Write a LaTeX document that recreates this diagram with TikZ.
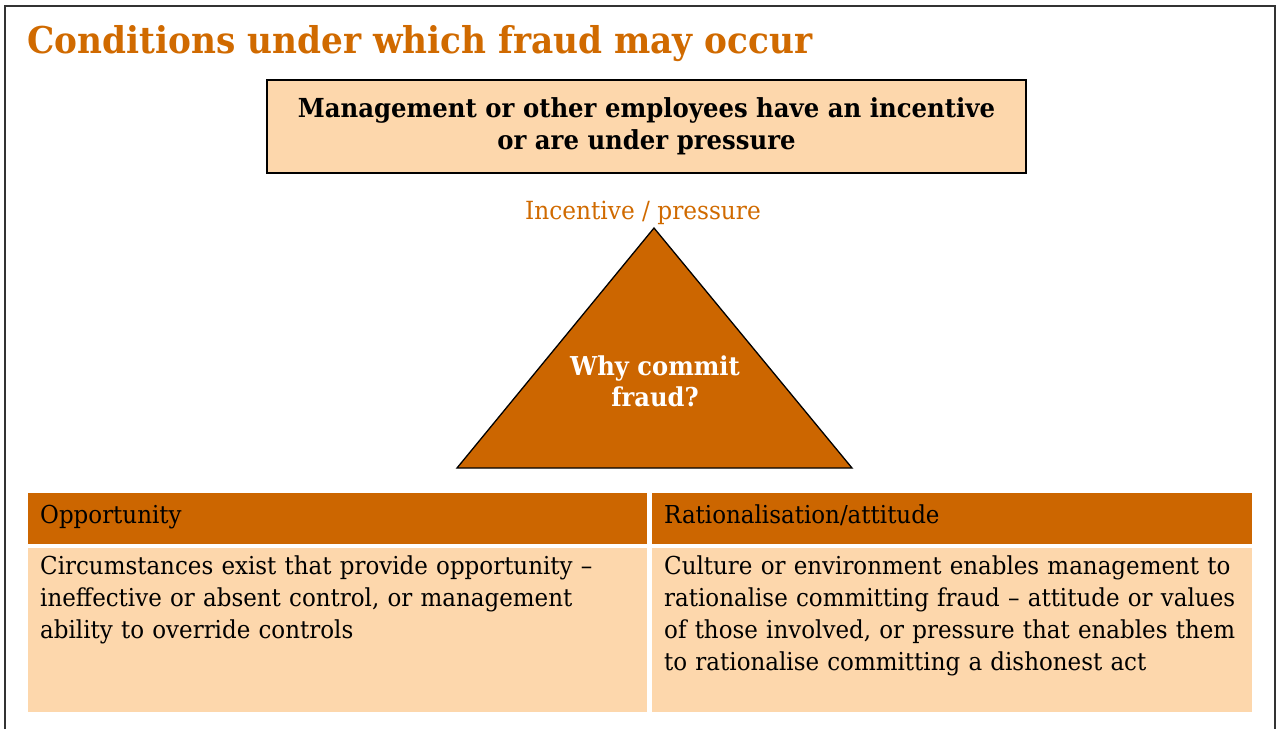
\documentclass[tikz,border=0pt]{standalone}
\usepackage{fontspec}
\setmainfont{DejaVu Serif}[FakeStretch=0.93]
\usetikzlibrary{positioning}

\definecolor{fraudorange}{RGB}{204,102,0}
\definecolor{titleorange}{RGB}{208,106,0}
\definecolor{peach}{RGB}{253,215,172}

\tikzset{
	headcell/.style={fill=fraudorange, minimum height=51pt, inner sep=0pt},
	bodycell/.style={fill=peach, minimum height=164pt, inner sep=0pt},
	celltext/.style={anchor=north west, inner sep=0pt, align=left, font=\fontsize{24.7}{31.8}\selectfont},
}

\begin{document}
\begin{tikzpicture}[x=1pt, y=-1pt]
	\useasboundingbox (0,0) rectangle (1279,729);
	% frame
	\draw [line width=2pt, black!80] (5,729) -- (5,6) -- (1275,6) -- (1275,729);

	% title
	\node [anchor=base west, inner sep=0pt, text=titleorange, font=\fontsize{36.9}{42}\selectfont\bfseries] (title) at (27,53) {Conditions under which fraud may occur};

	% incentive box
	\node [draw, line width=1.6pt, fill=peach, minimum width=759pt, minimum height=93pt, inner sep=0pt,
		align=center, font=\fontsize{26.2}{32}\selectfont\bfseries] (incbox) at (646.5,126.5)
		{Management or other employees have an incentive\\or are under pressure};

	% triangle
	\coordinate (apex) at (654,228);
	\coordinate (bl) at (457,468);
	\coordinate (br) at (852,468);
	\draw [line width=1.3pt, fill=fraudorange, line join=miter] (apex) -- (bl) -- (br) -- cycle;
	\node [anchor=base, inner sep=0pt, text=titleorange, font=\fontsize{25}{28}\selectfont] (inclabel) at (643,219) {Incentive / pressure};
	\node [text=white, align=center, inner sep=0pt, font=\fontsize{26}{31}\selectfont\bfseries] (why) at (655,381) {Why commit\\fraud?};

	% table
	\node [headcell, anchor=north west, minimum width=619pt] (opphead) at (28,493) {};
	\node [headcell, anchor=north west, minimum width=600pt] (rathead) at (652,493) {};
	\node [bodycell, anchor=north west, minimum width=619pt] (oppbody) at (28,548) {};
	\node [bodycell, anchor=north west, minimum width=600pt] (ratbody) at (652,548) {};

	\node [anchor=base west, inner sep=0pt, font=\fontsize{24.7}{30}\selectfont] (opptitle) at (40,523) {Opportunity};
	\node [anchor=base west, inner sep=0pt, font=\fontsize{24.7}{30}\selectfont] (rattitle) at (664,523) {Rationalisation/attitude};

	\node [celltext, text width=595pt] (opptext) at (40,556) {Circumstances exist that provide opportunity –\\ineffective or absent control, or management\\ability to override controls};
	\node [celltext, text width=585pt] (rattext) at (664,556) {Culture or environment enables management to\\rationalise committing fraud – attitude or values\\of those involved, or pressure that enables them\\to rationalise committing a dishonest act};
\end{tikzpicture}
\end{document}
